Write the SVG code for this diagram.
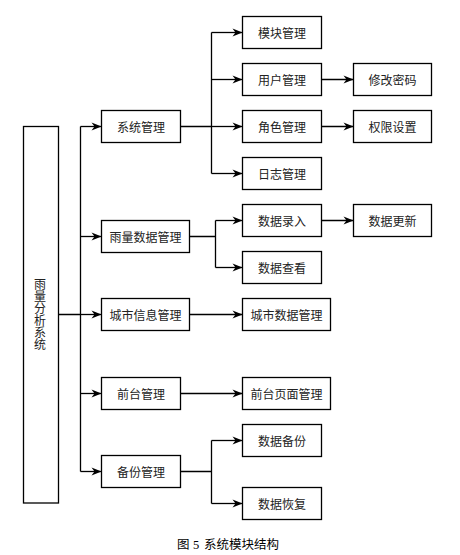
<svg xmlns="http://www.w3.org/2000/svg" width="460" height="555" viewBox="0 0 460 555">
<style>
.box{fill:#fff;stroke:#000;stroke-width:1.3}
.t{font-family:"Noto Sans CJK SC","Liberation Sans",sans-serif;font-size:12px;fill:#222;text-anchor:middle;dominant-baseline:central}
.v{font-family:"Noto Sans CJK SC","Liberation Sans",sans-serif;font-size:12px;fill:#222;writing-mode:vertical-rl;text-orientation:upright}
.ln{fill:none;stroke:#000;stroke-width:1.3}
.ar{fill:none;stroke:#000;stroke-width:1.3;marker-end:url(#arr)}
</style>
<defs>
<marker id="arr" markerUnits="userSpaceOnUse" markerWidth="11" markerHeight="9" refX="10" refY="4" orient="auto" overflow="visible">
<path d="M0,0 L10,4 L0,8 L3,4 Z" fill="#000"/>
</marker>
</defs>
<rect width="460" height="555" fill="#fff"/>
<g id="connectors">
<path class="ln" d="M58.5,314.5 H80.5 M80.5,126.5 V471.5"/>
<path class="ar" d="M80.5,126.5 H101.5"/>
<path class="ar" d="M80.5,236.5 H101.5"/>
<path class="ar" d="M80.5,314.5 H101.5"/>
<path class="ar" d="M80.5,393.5 H101.5"/>
<path class="ar" d="M80.5,471.5 H101.5"/>
<path class="ln" d="M180.5,126.5 H211.5 M211.5,32.5 V173.5"/>
<path class="ar" d="M211.5,32.5 H242.5"/>
<path class="ar" d="M211.5,79.5 H242.5"/>
<path class="ar" d="M211.5,126.5 H242.5"/>
<path class="ar" d="M211.5,173.5 H242.5"/>
<path class="ln" d="M189.5,236.5 H215.5 M215.5,220.5 V267.5"/>
<path class="ar" d="M215.5,220.5 H242.5"/>
<path class="ar" d="M215.5,267.5 H242.5"/>
<path class="ar" d="M189.5,314.5 H242.5"/>
<path class="ar" d="M180.5,393.5 H242.5"/>
<path class="ln" d="M180.5,471.5 H211.5 M211.5,440.5 V503.5"/>
<path class="ar" d="M211.5,440.5 H242.5"/>
<path class="ar" d="M211.5,503.5 H242.5"/>
<path class="ar" d="M321.5,79.5 H353.5"/>
<path class="ar" d="M321.5,126.5 H353.5"/>
<path class="ar" d="M321.5,220.5 H353.5"/>
</g>
<g id="root"><rect class="box" x="23.5" y="126.5" width="35" height="376.5"/>
<text class="v" x="40" y="278">雨量分析系统</text></g>
<g id="xtgl"><rect class="box" x="101.5" y="110.5" width="79" height="32"/><text class="t" x="141" y="126.5">系统管理</text></g>
<g id="ylsjgl"><rect class="box" x="101.5" y="220.5" width="88" height="32"/><text class="t" x="145.5" y="236.5">雨量数据管理</text></g>
<g id="csxxgl"><rect class="box" x="101.5" y="298.5" width="88" height="32"/><text class="t" x="145.5" y="314.5">城市信息管理</text></g>
<g id="qtgl"><rect class="box" x="101.5" y="377.5" width="79" height="32"/><text class="t" x="141" y="393.5">前台管理</text></g>
<g id="bfgl"><rect class="box" x="101.5" y="455.5" width="79" height="32"/><text class="t" x="141" y="471.5">备份管理</text></g>
<g id="mkgl"><rect class="box" x="242.5" y="16.5" width="79" height="32"/><text class="t" x="282" y="32.5">模块管理</text></g>
<g id="yhgl"><rect class="box" x="242.5" y="63.5" width="79" height="32"/><text class="t" x="282" y="79.5">用户管理</text></g>
<g id="jsgl"><rect class="box" x="242.5" y="110.5" width="79" height="32"/><text class="t" x="282" y="126.5">角色管理</text></g>
<g id="rzgl"><rect class="box" x="242.5" y="157.5" width="79" height="32"/><text class="t" x="282" y="173.5">日志管理</text></g>
<g id="sjlr"><rect class="box" x="242.5" y="204.5" width="79" height="32"/><text class="t" x="282" y="220.5">数据录入</text></g>
<g id="sjck"><rect class="box" x="242.5" y="251.5" width="79" height="32"/><text class="t" x="282" y="267.5">数据查看</text></g>
<g id="cssjgl"><rect class="box" x="242.5" y="298.5" width="88" height="32"/><text class="t" x="286.5" y="314.5">城市数据管理</text></g>
<g id="qtymgl"><rect class="box" x="242.5" y="377.5" width="88" height="32"/><text class="t" x="286.5" y="393.5">前台页面管理</text></g>
<g id="sjbf"><rect class="box" x="242.5" y="424.5" width="79" height="32"/><text class="t" x="282" y="440.5">数据备份</text></g>
<g id="sjhf"><rect class="box" x="242.5" y="487.5" width="79" height="32"/><text class="t" x="282" y="503.5">数据恢复</text></g>
<g id="xgmm"><rect class="box" x="353.5" y="63.5" width="78" height="32"/><text class="t" x="392.5" y="79.5">修改密码</text></g>
<g id="qxsz"><rect class="box" x="353.5" y="110.5" width="78" height="32"/><text class="t" x="392.5" y="126.5">权限设置</text></g>
<g id="sjgx"><rect class="box" x="353.5" y="204.5" width="78" height="32"/><text class="t" x="392.5" y="220.5">数据更新</text></g>
<text x="177" y="549" font-family="'Noto Sans CJK SC','Liberation Sans',sans-serif" font-size="12.5" fill="#000">图<tspan x="193" font-family="'Liberation Serif',serif">5</tspan><tspan x="204">系统模块结构</tspan></text>
</svg>
